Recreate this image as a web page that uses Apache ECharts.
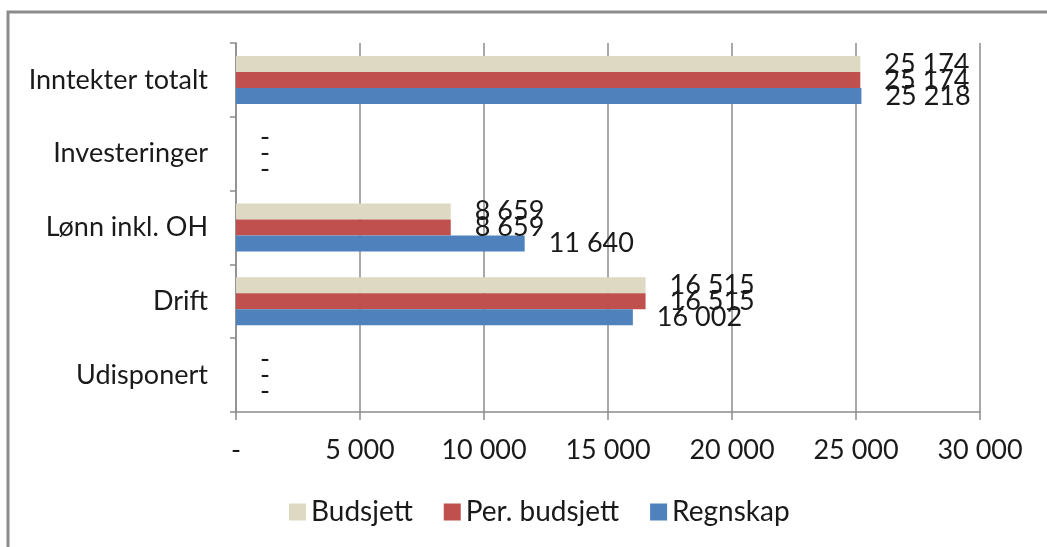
<!DOCTYPE html>
<html>
<head>
<meta charset="utf-8">
<script src="https://cdn.jsdelivr.net/npm/echarts@6/dist/echarts.min.js"></script>
<style>
	html, body { margin: 0; padding: 0; background: #fff; }
	#chart { width: 1047px; height: 547px; }
</style>
</head>
<body>
<div id="chart"></div>
<script>
var categories = ['Inntekter totalt', 'Investeringer', 'Lønn inkl. OH', 'Drift', 'Udisponert'];
var budsjett = [25174, 0, 8659, 16515, 0];
var perBudsjett = [25174, 0, 8659, 16515, 0];
var regnskap = [25218, 0, 11640, 16002, 0];
var seriesNames = ['Budsjett', 'Per. budsjett', 'Regnskap'];
var myColor = ['#DDD9C3', '#C0504D', '#4F81BD'];

var fontFamily = 'Lato, "Open Sans", sans-serif';

// tall med mellomrom som tusenskille, 0 vises som "-"
function fmt(v) {
	if (!v) return '-';
	return String(v).replace(/\B(?=(\d{3})+(?!\d))/g, ' ');
}

function makeSeries(name, data, idx) {
	return {
		name: name,
		type: 'bar',
		data: data,
		barWidth: 16,
		barGap: 0,
		barCategoryGap: '35%',
		itemStyle: {
			color: myColor[idx]
		},
		label: {
			show: true,
			position: 'right',
			distance: 24,
			color: '#1a1a1a',
			fontSize: 27,
			fontFamily: fontFamily,
			formatter: function(p) {
				return fmt(p.value);
			}
		}
	};
}

var chart = echarts.init(document.getElementById('chart'));
chart.setOption({
	animation: false,
	textStyle: {
		fontFamily: fontFamily
	},
	graphic: [{
		type: 'rect',
		shape: { x: 8, y: 12, width: 1060, height: 560 },
		style: { fill: 'none', stroke: '#8c8c8c', lineWidth: 3 },
		silent: true
	}],
	grid: {
		left: 236,
		right: 67,
		top: 43,
		bottom: 135
	},
	legend: {
		bottom: 16,
		left: 284,
		itemWidth: 17,
		itemHeight: 17,
		itemGap: 31,
		icon: 'rect',
		textStyle: {
			color: '#1a1a1a',
			fontSize: 28,
			fontFamily: fontFamily
		},
		data: seriesNames
	},
	xAxis: {
		type: 'value',
		min: 0,
		max: 30000,
		interval: 5000,
		axisLine: {
			show: true,
			lineStyle: { color: '#8c8c8c', width: 1.5 }
		},
		axisTick: {
			show: true,
			length: 8,
			lineStyle: { color: '#8c8c8c', width: 1.5 }
		},
		splitLine: {
			show: true,
			lineStyle: { color: '#8c8c8c', width: 1.5 }
		},
		axisLabel: {
			color: '#1a1a1a',
			fontSize: 27,
			margin: 25,
			formatter: fmt
		}
	},
	yAxis: {
		type: 'category',
		data: categories,
		inverse: true,
		axisLine: {
			show: true,
			lineStyle: { color: '#8c8c8c', width: 1.5 }
		},
		axisTick: {
			show: true,
			length: 6,
			lineStyle: { color: '#8c8c8c', width: 1.5 }
		},
		axisLabel: {
			color: '#1a1a1a',
			fontSize: 27,
			margin: 28
		}
	},
	series: [
		makeSeries(seriesNames[0], budsjett, 0),
		makeSeries(seriesNames[1], perBudsjett, 1),
		makeSeries(seriesNames[2], regnskap, 2)
	]
});
</script>
</body>
</html>
